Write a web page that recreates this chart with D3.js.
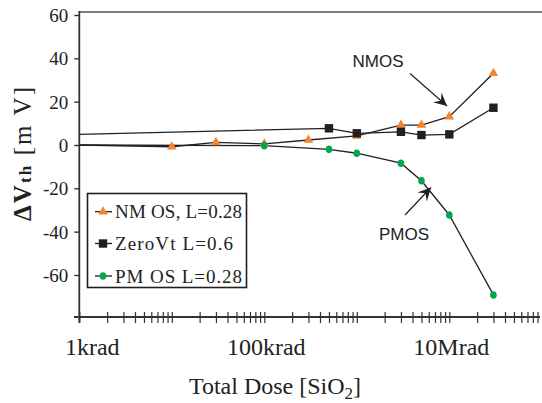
<!DOCTYPE html>
<html><head><meta charset="utf-8">
<script src="https://cdn.jsdelivr.net/npm/d3@7"></script>
<style>body{margin:0;background:#fff}svg{display:block}</style>
</head><body><svg id="c" width="542" height="403"></svg>
<script>
// Dose in krad (SiO2), threshold shift in mV
const nmosDose  = [1, 10, 30, 100, 300, 1000, 3000, 5000, 10000, 30000];
const nmosShift = [0, -0.8, 1.2, 0.5, 2.3, 4.2, 9.2, 9.2, 13.1, 33.1];
const zeroDose  = [1, 500, 1000, 3000, 5000, 10000, 30000];
const zeroShift = [4.9, 7.7, 5.4, 6.1, 4.6, 4.9, 17.2];
const pmosDose  = [1, 100, 500, 1000, 3000, 5000, 10000, 30000];
const pmosShift = [0, -0.3, -2.0, -3.8, -8.4, -16.5, -32.3, -69.2];
const yTicks = [60, 40, 20, 0, -20, -40, -60];
const xLabelValues = [1, 100, 10000];
const xLabels = ['1krad', '100krad', '10Mrad'];
const legendLabels = ['NM OS, L=0.28', 'ZeroVt  L=0.6', 'PM OS  L=0.28'];

const ORANGE = '#f5842a', GREEN = '#00a651', BLACK = '#231f20', AXIS = '#333';
const svg = d3.select('#c');
const x = d3.scaleLog().domain([1, 1e5]).range([79.3, 541.8]);
const y = d3.scaleLinear().domain([-60, 60]).range([275, 15]);
const serif = "'Liberation Serif','Times New Roman',serif";
const sans = "'Liberation Sans',Arial,sans-serif";

// top frame line
svg.append('line').attr('x1', x(1)).attr('x2', 542).attr('y1', 12).attr('y2', 12)
  .attr('stroke', '#555').attr('stroke-width', 1.6);

// Y axis
const yAxis = svg.append('g').attr('transform', `translate(${x(1)},0)`)
  .call(d3.axisLeft(y).tickValues(yTicks).tickSize(5).tickSizeOuter(0).tickFormat(d => String(d)));
yAxis.select('.domain').remove();
yAxis.selectAll('.tick line').attr('stroke', AXIS).attr('stroke-width', 1.4);
yAxis.selectAll('.tick text').attr('x', -11).attr('dy', '0.34em')
  .attr('font-family', serif).attr('font-size', 19).attr('fill', '#222');
svg.append('line').attr('x1', x(1)).attr('x2', x(1)).attr('y1', 11).attr('y2', 323)
  .attr('stroke', AXIS).attr('stroke-width', 1.8);

// X axis
const minor = [];
for (let dec = 1; dec <= 1e4; dec *= 10) for (let k = 1; k <= 9; k++) minor.push(dec * k);
const xAxisY = 317;
const xAxis = svg.append('g').attr('transform', `translate(0,${xAxisY})`)
  .call(d3.axisBottom(x).tickValues(minor).tickSize(6).tickSizeOuter(0).tickFormat(''));
xAxis.select('.domain').remove();
xAxis.selectAll('.tick line').attr('y1', -5).attr('y2', 6).attr('stroke', AXIS).attr('stroke-width', 1.2);
svg.append('line').attr('x1', 74).attr('x2', 540).attr('y1', xAxisY).attr('y2', xAxisY)
  .attr('stroke', AXIS).attr('stroke-width', 1.8);
xLabelValues.forEach((v, i) => {
  svg.append('text').attr('x', x(v) + (i === 0 ? 13 : 2)).attr('y', 355)
    .attr('text-anchor', 'middle').attr('font-family', serif).attr('font-size', 24)
    .attr('fill', '#222').text(xLabels[i]);
});

// X title
const xt = svg.append('text').attr('x', 275).attr('y', 394).attr('text-anchor', 'middle')
  .attr('font-family', serif).attr('font-size', 24).attr('fill', '#222');
xt.append('tspan').text('Total Dose [SiO');
xt.append('tspan').attr('font-size', 17).attr('dy', 5).text('2');
xt.append('tspan').attr('dy', -5).text(']');

// Y title
const yt = svg.append('text').attr('transform', 'translate(31,154) rotate(-90)')
  .attr('text-anchor', 'middle').attr('font-family', serif).attr('font-size', 25).attr('fill', '#222')
  .attr('textLength', 134).attr('lengthAdjust', 'spacing');
yt.append('tspan').attr('font-weight', 'bold').text('\u0394V');
yt.append('tspan').attr('font-weight', 'bold').attr('font-size', 17).text('th');
yt.append('tspan').text(' [m V]');

// lines
const line = d3.line().x(d => x(d[0])).y(d => y(d[1]));
const series = [
  { dose: nmosDose, shift: nmosShift },
  { dose: zeroDose, shift: zeroShift },
  { dose: pmosDose, shift: pmosShift }
];
series.forEach(s => {
  svg.append('path').datum(d3.zip(s.dose, s.shift)).attr('d', line)
    .attr('fill', 'none').attr('stroke', BLACK).attr('stroke-width', 1.3);
});

// markers (first point = pre-irradiation reference at the axis, no marker)
const tri = d3.symbol().type(d3.symbolTriangle).size(40);
svg.append('g').selectAll('path').data(d3.zip(nmosDose, nmosShift).slice(1)).join('path')
  .attr('d', tri).attr('transform', d => `translate(${x(d[0])},${y(d[1])})`).attr('fill', ORANGE);
svg.append('g').selectAll('ellipse').data(d3.zip(pmosDose, pmosShift).slice(1)).join('ellipse')
  .attr('cx', d => x(d[0])).attr('cy', d => y(d[1])).attr('rx', 3.3).attr('ry', 3.8).attr('fill', GREEN);
svg.append('g').selectAll('rect').data(d3.zip(zeroDose, zeroShift).slice(1)).join('rect')
  .attr('x', d => x(d[0]) - 4.2).attr('y', d => y(d[1]) - 4.2).attr('width', 8.4).attr('height', 8.4)
  .attr('fill', BLACK);

// annotations with arrows
function arrow(x0, y0, x1, y1) {
  svg.append('line').attr('x1', x0).attr('y1', y0).attr('x2', x1).attr('y2', y1)
    .attr('stroke', BLACK).attr('stroke-width', 1.2);
  const dx = x1 - x0, dy = y1 - y0, L = Math.hypot(dx, dy);
  const ux = dx / L, uy = dy / L, nx = -uy, ny = ux;
  const len = 13, w = 6.5, notch = 8;
  const p = [
    [x1, y1],
    [x1 - len * ux + w * nx, y1 - len * uy + w * ny],
    [x1 - notch * ux, y1 - notch * uy],
    [x1 - len * ux - w * nx, y1 - len * uy - w * ny]
  ];
  svg.append('path').attr('d', 'M' + p.map(q => q.join(',')).join('L') + 'Z').attr('fill', BLACK);
}
svg.append('text').attr('x', 378).attr('y', 66.5).attr('text-anchor', 'middle')
  .attr('font-family', sans).attr('font-size', 17).attr('fill', '#222').text('NMOS');
arrow(410, 73.5, 447, 106);
svg.append('text').attr('x', 404).attr('y', 240).attr('text-anchor', 'middle')
  .attr('font-family', sans).attr('font-size', 17).attr('fill', '#222').text('PMOS');
arrow(405, 215, 431, 187.5);

// legend
const lg = svg.append('g');
lg.append('rect').attr('x', 87.5).attr('y', 193.5).attr('width', 159).attr('height', 94)
  .attr('fill', '#fff').attr('stroke', BLACK).attr('stroke-width', 1.6);
const ly = [211.7, 243.5, 276];
const textEnd = [242, 233, 242];
ly.forEach((yy, i) => {
  lg.append('line').attr('x1', 95).attr('x2', 112).attr('y1', yy).attr('y2', yy)
    .attr('stroke', BLACK).attr('stroke-width', 1.3);
  if (i === 0) lg.append('path').attr('d', tri).attr('transform', `translate(103,${yy})`).attr('fill', ORANGE);
  if (i === 1) lg.append('rect').attr('x', 98.8).attr('y', yy - 4.2).attr('width', 8.4).attr('height', 8.4).attr('fill', BLACK);
  if (i === 2) lg.append('ellipse').attr('cx', 103).attr('cy', yy).attr('rx', 3.3).attr('ry', 3.8).attr('fill', GREEN);
  lg.append('text').attr('x', 115).attr('y', yy + 6.6).attr('font-family', serif).attr('font-size', 19)
    .attr('fill', '#222').attr('textLength', textEnd[i] - 115).attr('lengthAdjust', 'spacing')
    .text(legendLabels[i]);
});
</script></body></html>
